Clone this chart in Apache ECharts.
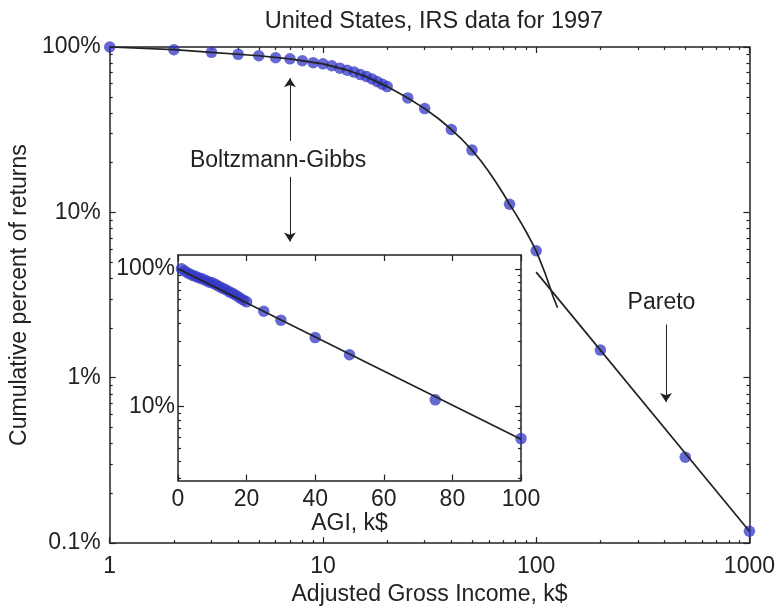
<!DOCTYPE html>
<html>
<head>
<meta charset="utf-8">
<script src="https://cdn.jsdelivr.net/npm/echarts@6/dist/echarts.min.js"></script>
<style>html,body{margin:0;padding:0;background:#fff}#c{width:778px;height:611px}</style>
</head>
<body>
<div id="c"></div>
<script>
// ---- data ----
const titleText = 'United States, IRS data for 1997';
const incomeK = [1,2,3,4,5,6,7,8,9,10,11,12,13,14,15,16,17,18,19,20,25,30,40,50,75,100,200,500,1000];
const cumPercent = [100,96.3,92.8,90.3,88.5,86.1,84.8,82.6,80.4,79.1,77.0,74.5,72.4,70.5,68.1,66.3,64.0,61.6,59.5,57.6,49.2,42.4,31.7,23.8,11.2,5.86,1.47,0.331,0.118];
// Boltzmann-Gibbs fit curve (main panel)
const bgFitIncome = [1,2,3,5,7,10,13,16,20,25,30,35,40,45,50,55,60,65,70,75,80,85,90,95,100,105,110,115,120,126];
const bgFitPercent = [100,96.3,92.8,88.5,84.8,79.1,72.4,66.1,57.6,49.2,42.4,36.7,31.7,27.5,23.8,20.5,17.6,15.1,13.0,11.2,9.83,8.63,7.58,6.66,5.85,5.0,4.3,3.65,3.1,2.65];
// Pareto fit line
const paretoIncome = [100,1000];
const paretoPercent = [4.35,0.118];
// Inset fit line (semilog straight line)
const insetFitIncome = [0,100];
const insetFitPercent = [100,5.8];
// Tick values
const mainXMajor = [1,10,100,1000];
const mainXMinor = [2,3,4,5,6,7,8,9,20,30,40,50,60,70,80,90,200,300,400,500,600,700,800,900];
const mainYMajor = [0.1,1,10,100];
const mainYMinor = [0.2,0.3,0.4,0.5,0.6,0.7,0.8,0.9,2,3,4,5,6,7,8,9,20,30,40,50,60,70,80,90];
const insetYMajor = [10,100];
const insetYMinor = [3,4,5,6,7,8,9,20,30,40,50,60,70,80,90];
const insetXTicks = [0,20,40,60,80,100];
// Annotations
const bgLabel = {text:'Boltzmann-Gibbs', x:6.16, y:20.6};
const bgArrowUp = {x:7, from:27.1, to:64.7};
const bgArrowDown = {x:7, from:16.4, to:6.67};
const paretoLabel = {text:'Pareto', x:387, y:2.84};
const paretoArrow = {x:406, from:2.1, to:0.713};

// ---- styling ----
const FONT = "'Liberation Sans', Arial, Helvetica, sans-serif";
const INK = '#222';
const DOT = 'rgba(50,54,196,0.93)';
const FS = 23;
const lineStyleAx = {color: INK, width: 1.5};

function num(v){ return String(Number(v.toPrecision(6))); }

function axis(o){
  const a = {
    type: o.type, gridIndex: o.grid, position: o.position,
    min: o.min, max: o.max,
    axisLine: {show: !!o.line, onZero: false, lineStyle: lineStyleAx},
    axisTick: {show: true, inside: true, length: o.len, customValues: o.ticks, lineStyle: {color: INK, width: 1.2}},
    axisLabel: o.labels ? {show: true, customValues: o.labels, margin: o.margin, fontSize: FS, color: INK, fontFamily: FONT, formatter: o.fmt} : {show: false},
    splitLine: {show: false}, minorTick: {show: false}
  };
  if (o.interval) a.interval = o.interval;
  if (o.name) {
    a.name = o.name; a.nameLocation = 'middle'; a.nameGap = o.nameGap;
    a.nameTextStyle = {fontSize: FS, color: INK, fontFamily: FONT};
  }
  return a;
}

const pctFmt = v => num(v) + '%';

const option = {
  animation: false,
  backgroundColor: '#fff',
  title: {text: titleText, left: 429, top: 5, textAlign: 'center',
    textStyle: {fontSize: 23.5, fontWeight: 'normal', color: INK, fontFamily: FONT}},
  grid: [
    {left: 103, top: 47, width: 649, height: 508},
    {left: 178, top: 255, width: 343, height: 225.5, show: true, backgroundColor: '#fff', borderWidth: 0}
  ],
  xAxis: [
    axis({type:'log', grid:0, position:'bottom', min:1, max:1000, line:true, len:6, ticks:mainXMajor, labels:mainXMajor, margin:12, fmt:num, name:'Adjusted Gross Income, k$', nameGap:29}),
    axis({type:'log', grid:0, position:'bottom', min:1, max:1000, len:3, ticks:mainXMinor}),
    axis({type:'log', grid:0, position:'top', min:1, max:1000, line:true, len:6, ticks:mainXMajor}),
    axis({type:'log', grid:0, position:'top', min:1, max:1000, len:3, ticks:mainXMinor}),
    axis({type:'value', grid:1, position:'bottom', min:0, max:100, interval:20, line:true, len:6, ticks:insetXTicks, labels:insetXTicks, margin:8, fmt:num, name:'AGI, k$', nameGap:30}),
    axis({type:'value', grid:1, position:'top', min:0, max:100, interval:20, line:true, len:6, ticks:insetXTicks})
  ],
  yAxis: [
    axis({type:'log', grid:0, position:'left', min:0.1, max:100, line:true, len:6, ticks:mainYMajor, labels:mainYMajor, margin:9, fmt:pctFmt, name:'Cumulative percent of returns', nameGap:67}),
    axis({type:'log', grid:0, position:'left', min:0.1, max:100, len:3, ticks:mainYMinor}),
    axis({type:'log', grid:0, position:'right', min:0.1, max:100, line:true, len:6, ticks:mainYMajor}),
    axis({type:'log', grid:0, position:'right', min:0.1, max:100, len:3, ticks:mainYMinor}),
    axis({type:'log', grid:1, position:'left', min:2.91, max:126, line:true, len:6, ticks:insetYMajor, labels:insetYMajor, margin:3, fmt:pctFmt}),
    axis({type:'log', grid:1, position:'left', min:2.91, max:126, len:3, ticks:insetYMinor}),
    axis({type:'log', grid:1, position:'right', min:2.91, max:126, line:true, len:6, ticks:insetYMajor}),
    axis({type:'log', grid:1, position:'right', min:2.91, max:126, len:3, ticks:insetYMinor})
  ],
  series: [
    {type:'scatter', xAxisIndex:0, yAxisIndex:0, z:2, symbolSize:11.5,
      itemStyle:{color:DOT}, data: incomeK.map((x,i)=>[x,cumPercent[i]])},
    {type:'line', xAxisIndex:0, yAxisIndex:0, z:3, symbol:'none', lineStyle:{color:INK, width:1.7},
      data: bgFitIncome.map((x,i)=>[x,bgFitPercent[i]]),
      markLine: {silent:true, symbol:['none','arrow'], symbolSize:9, label:{show:false},
        lineStyle:{color:INK, width:1, type:'solid'},
        data: [
          [{coord:[bgArrowUp.x,bgArrowUp.from]},{coord:[bgArrowUp.x,bgArrowUp.to]}],
          [{coord:[bgArrowDown.x,bgArrowDown.from]},{coord:[bgArrowDown.x,bgArrowDown.to]}],
          [{coord:[paretoArrow.x,paretoArrow.from]},{coord:[paretoArrow.x,paretoArrow.to]}]
        ]},
      markPoint: {silent:true, symbol:'circle', symbolSize:0,
        label:{show:true, position:'inside', formatter:'{b}', color:INK, fontSize:FS, fontFamily:FONT},
        data: [
          {name:bgLabel.text, coord:[bgLabel.x,bgLabel.y]},
          {name:paretoLabel.text, coord:[paretoLabel.x,paretoLabel.y]}
        ]}
    },
    {type:'line', xAxisIndex:0, yAxisIndex:0, z:3, symbol:'none', lineStyle:{color:INK, width:1.7},
      data: paretoIncome.map((x,i)=>[x,paretoPercent[i]])},
    {type:'scatter', xAxisIndex:4, yAxisIndex:4, z:2, symbolSize:11.5,
      itemStyle:{color:DOT}, data: incomeK.filter(x=>x<=100).map((x,i)=>[x,cumPercent[i]])},
    {type:'line', xAxisIndex:4, yAxisIndex:4, z:3, symbol:'none', lineStyle:{color:INK, width:1.7},
      data: insetFitIncome.map((x,i)=>[x,insetFitPercent[i]])}
  ]
};
const chart = echarts.init(document.getElementById('c'), null, {renderer:'canvas'});
chart.setOption(option);
</script>
</body>
</html>
